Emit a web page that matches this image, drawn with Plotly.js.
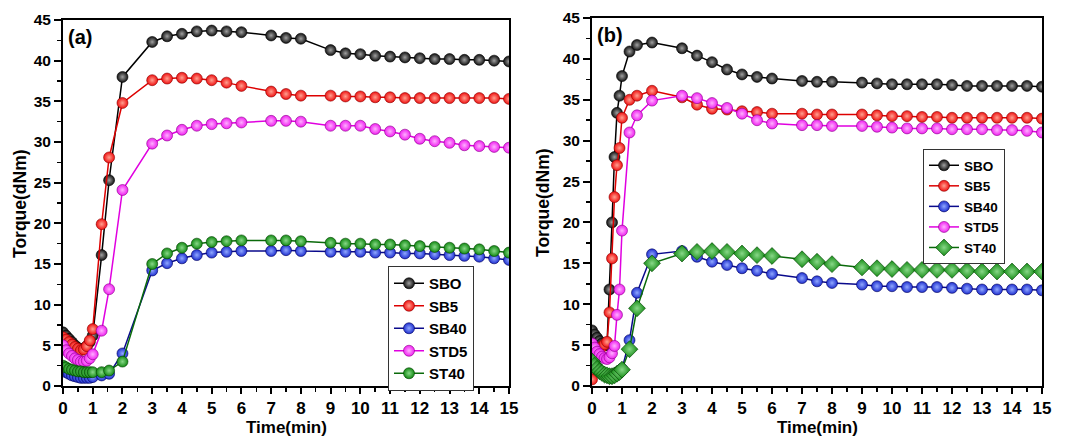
<!DOCTYPE html>
<html>
<head>
<meta charset="utf-8">
<script src="https://cdn.plot.ly/plotly-3.0.1.min.js"></script>
<style>html,body{margin:0;padding:0;background:#fff;}#chart{width:1065px;height:438px;}</style>
</head>
<body>
<div id="chart"></div>
<script>
// ---------- Data ----------
const seriesNames = ["SBO", "SB5", "SB40", "STD5", "ST40"];

// Panel (a)
const timeA = [0, 0.1, 0.2, 0.3, 0.4, 0.5, 0.6, 0.7, 0.8, 0.9, 1.0, 1.3, 1.55, 2, 3, 3.5, 4, 4.5, 5, 5.5, 6, 7, 7.5, 8, 9, 9.5, 10, 10.5, 11, 11.5, 12, 12.5, 13, 13.5, 14, 14.5, 15];
const a_SBO  = [6.6, 6.2, 5.8, 5.4, 5.0, 4.7, 4.5, 4.6, 4.9, 5.4, 6.2, 16.1, 25.3, 38.0, 42.3, 43.0, 43.3, 43.6, 43.7, 43.6, 43.5, 43.1, 42.8, 42.7, 41.3, 40.9, 40.8, 40.6, 40.5, 40.4, 40.3, 40.2, 40.2, 40.1, 40.1, 40.0, 39.9];
const a_SB5  = [6.0, 5.7, 5.4, 5.1, 4.8, 4.6, 4.4, 4.5, 4.9, 5.6, 7.0, 19.9, 28.1, 34.8, 37.6, 37.8, 37.9, 37.8, 37.6, 37.3, 36.9, 36.2, 35.9, 35.7, 35.7, 35.6, 35.6, 35.5, 35.5, 35.4, 35.4, 35.4, 35.4, 35.4, 35.4, 35.4, 35.3];
const a_SB40 = [2.0, 1.7, 1.5, 1.3, 1.2, 1.1, 1.0, 1.0, 1.0, 1.0, 1.1, 1.3, 1.5, 4.0, 14.2, 15.1, 15.7, 16.1, 16.4, 16.5, 16.6, 16.6, 16.7, 16.6, 16.5, 16.5, 16.5, 16.4, 16.4, 16.3, 16.3, 16.2, 16.1, 16.0, 15.9, 15.7, 15.5];
const a_STD5 = [5.0, 4.4, 4.0, 3.7, 3.4, 3.2, 3.0, 3.0, 3.1, 3.4, 3.9, 6.8, 11.9, 24.1, 29.8, 30.8, 31.5, 32.0, 32.2, 32.3, 32.4, 32.6, 32.6, 32.5, 32.0, 32.0, 32.0, 31.6, 31.3, 30.9, 30.4, 30.1, 29.9, 29.6, 29.5, 29.4, 29.3];
const a_ST40 = [2.5, 2.3, 2.1, 2.0, 1.9, 1.8, 1.8, 1.7, 1.7, 1.7, 1.7, 1.7, 1.9, 3.0, 15.0, 16.3, 17.0, 17.5, 17.7, 17.8, 17.9, 17.9, 17.9, 17.8, 17.6, 17.5, 17.5, 17.4, 17.4, 17.3, 17.2, 17.1, 17.0, 16.9, 16.8, 16.6, 16.4];

// Panel (b)
const timeB = [0, 0.083, 0.167, 0.25, 0.333, 0.417, 0.5, 0.583, 0.667, 0.75, 0.833, 0.917, 1.0, 1.25, 1.5, 2, 3, 3.5, 4, 4.5, 5, 5.5, 6, 7, 7.5, 8, 9, 9.5, 10, 10.5, 11, 11.5, 12, 12.5, 13, 13.5, 14, 14.5, 15];
const b_SBO  = [6.8, 6.3, 5.9, 5.5, 5.2, 5.0, 5.0, 11.8, 20.0, 28.0, 33.4, 35.5, 37.9, 40.9, 41.7, 42.0, 41.3, 40.4, 39.6, 38.7, 38.1, 37.8, 37.6, 37.3, 37.2, 37.2, 37.1, 37.0, 36.9, 36.9, 36.9, 36.9, 36.8, 36.7, 36.7, 36.7, 36.7, 36.7, 36.6];
const b_SB5  = [0.8, 2.5, 3.5, 4.3, 4.8, 5.1, 5.4, 9.0, 15.6, 23.1, 27.0, 29.1, 32.8, 35.0, 35.5, 36.1, 35.3, 34.4, 33.9, 33.8, 33.6, 33.5, 33.3, 33.3, 33.2, 33.2, 33.2, 33.1, 33.0, 33.0, 32.9, 32.9, 32.8, 32.8, 32.8, 32.8, 32.8, 32.8, 32.7];
const b_SB40 = [3.5, 2.8, 2.3, 1.9, 1.6, 1.4, 1.3, 1.2, 1.2, 1.3, 1.4, 1.7, 2.1, 5.6, 11.4, 16.1, 16.5, 15.8, 15.2, 14.8, 14.4, 14.1, 13.7, 13.2, 12.8, 12.6, 12.4, 12.2, 12.2, 12.1, 12.1, 12.1, 12.0, 11.9, 11.8, 11.8, 11.8, 11.8, 11.7];
const b_STD5 = [5.2, 4.7, 4.2, 3.9, 3.6, 3.4, 3.3, 3.5, 4.0, 4.9, 8.7, 11.8, 19.0, 31.0, 33.1, 34.9, 35.5, 35.2, 34.6, 34.0, 33.3, 32.5, 32.1, 31.9, 31.9, 31.8, 31.8, 31.7, 31.6, 31.5, 31.5, 31.5, 31.4, 31.4, 31.4, 31.3, 31.3, 31.2, 31.0];
const b_ST40 = [3.0, 2.5, 2.1, 1.8, 1.6, 1.4, 1.3, 1.2, 1.2, 1.3, 1.5, 1.7, 2.0, 4.5, 9.5, 15.0, 16.2, 16.4, 16.5, 16.4, 16.2, 16.0, 15.9, 15.5, 15.2, 14.9, 14.5, 14.4, 14.3, 14.2, 14.2, 14.2, 14.2, 14.1, 14.0, 14.0, 14.0, 14.0, 14.0];

const xTicks = [0,1,2,3,4,5,6,7,8,9,10,11,12,13,14,15];
const yTicks = [0,5,10,15,20,25,30,35,40,45];
const xTitle = "Time(min)";
const yTitle = "Torque(dNm)";
const panelLabels = ["(a)", "(b)"];

// ---------- Styles ----------
const lineColors   = ["#000000", "#dd0000", "#0a0a8c", "#e000e0", "#0a6a0a"];
const markerColors = ["#111111", "#f01010", "#1f2fd0", "#f020f0", "#138a13"];
const centerColors = ["#a0a0a0", "#ffa090", "#90a8ff", "#ffb0ff", "#88d888"];
const outlineCols  = ["#000000", "#8a0000", "#00005a", "#8a008a", "#004000"];

const FONT = "Liberation Sans, Arial, sans-serif";
const W = 1065, H = 438;

function makeTrace(x, y, i, xa, ya, legendId, symbol) {
  return {
    type: "scatter", mode: "lines+markers",
    x: x, y: y, name: seriesNames[i],
    xaxis: xa, yaxis: ya, legend: legendId, showlegend: true,
    line: {color: lineColors[i], width: 1.5},
    marker: {
      symbol: symbol, size: symbol === "diamond" ? 13 : 11,
      color: markerColors[i],
      gradient: {type: "radial", color: centerColors[i]},
      line: {color: outlineCols[i], width: 0.6}
    }
  };
}

const aSeries = [a_SBO, a_SB5, a_SB40, a_STD5, a_ST40];
const bSeries = [b_SBO, b_SB5, b_SB40, b_STD5, b_ST40];
const traces = [];
aSeries.forEach((s, i) => traces.push(makeTrace(timeA, s, i, "x", "y", "legend", "circle")));
bSeries.forEach((s, i) => traces.push(makeTrace(timeB, s, i, "x2", "y2", "legend2", i === 4 ? "diamond" : "circle")));

function xAxis(domain, anchor) {
  return {
    domain: domain, anchor: anchor, range: [0, 15],
    tickmode: "array", tickvals: xTicks, ticktext: xTicks.map(String),
    ticks: "outside", ticklen: 6, tickwidth: 2, tickcolor: "#000",
    minor: {dtick: 0.5, ticks: "outside", ticklen: 4, tickwidth: 1.5, tickcolor: "#000"},
    showline: true, linecolor: "#000", linewidth: 2, mirror: true,
    showgrid: false, zeroline: false, automargin: false,
    tickfont: {family: FONT, size: 17, color: "#000", weight: "bold"}
  };
}
function yAxis(domain, anchor) {
  return {
    domain: domain, anchor: anchor, range: [0, 45],
    tickmode: "array", tickvals: yTicks, ticktext: yTicks.map(String),
    ticks: "outside", ticklen: 7, tickwidth: 2, tickcolor: "#000",
    minor: {dtick: 2.5, ticks: "outside", ticklen: 4, tickwidth: 1.5, tickcolor: "#000"},
    showline: true, linecolor: "#000", linewidth: 2, mirror: true,
    showgrid: false, zeroline: false, automargin: false,
    tickfont: {family: FONT, size: 15.5, color: "#000", weight: "bold"}
  };
}

function legendBox(xpx, ypx, fs) {
  return {
    x: xpx / W, y: 1 - ypx / H, xanchor: "left", yanchor: "top", xref: "paper", yref: "paper",
    bgcolor: "#ffffff", bordercolor: "#333", borderwidth: 1,
    font: {family: FONT, size: fs, color: "#000", weight: "bold"},
    tracegroupgap: 0, itemwidth: 30, traceorder: "normal"
  };
}

const titleFont = {family: FONT, size: 17, color: "#000", weight: "bold"};
function xTitleAnn(text, xpx) {
  return {text: text, x: xpx / W, y: 0, xref: "paper", yref: "paper",
          xanchor: "center", yanchor: "bottom", borderpad: 0, showarrow: false, font: titleFont};
}
function yTitleAnn(text, xpx, ypx) {
  return {text: text, x: xpx / W, y: 1 - ypx / H, xref: "paper", yref: "paper",
          xanchor: "center", yanchor: "middle", showarrow: false, textangle: -90,
          font: {family: FONT, size: 17.5, color: "#000", weight: "bold"}};
}

const layout = {
  width: W, height: H,
  margin: {l: 0, r: 0, t: 0, b: 0},
  paper_bgcolor: "#fff", plot_bgcolor: "#fff",
  showlegend: true,
  xaxis: xAxis([63/W, 509/W], "y"),
  yaxis: yAxis([52/H, 418/H], "x"),
  xaxis2: xAxis([592/W, 1042/W], "y2"),
  yaxis2: yAxis([52/H, 420/H], "x2"),
  legend: legendBox(388, 266, 15),
  legend2: legendBox(923, 149, 13.5),
  annotations: [
    xTitleAnn(xTitle, 286),
    xTitleAnn(xTitle, 817),
    yTitleAnn(yTitle, 20, 204),
    yTitleAnn(yTitle, 543, 203),
    {text: panelLabels[0], x: 66/W, y: 1 - 24/H, xref: "paper", yref: "paper", xanchor: "left", yanchor: "top", showarrow: false,
     font: {family: FONT, size: 20, color: "#000", weight: "bold"}},
    {text: panelLabels[1], x: 595/W, y: 1 - 22/H, xref: "paper", yref: "paper", xanchor: "left", yanchor: "top", showarrow: false,
     font: {family: FONT, size: 20, color: "#000", weight: "bold"}}
  ]
};

Plotly.newPlot("chart", traces, layout, {staticPlot: true, displayModeBar: false});
</script>
</body>
</html>
